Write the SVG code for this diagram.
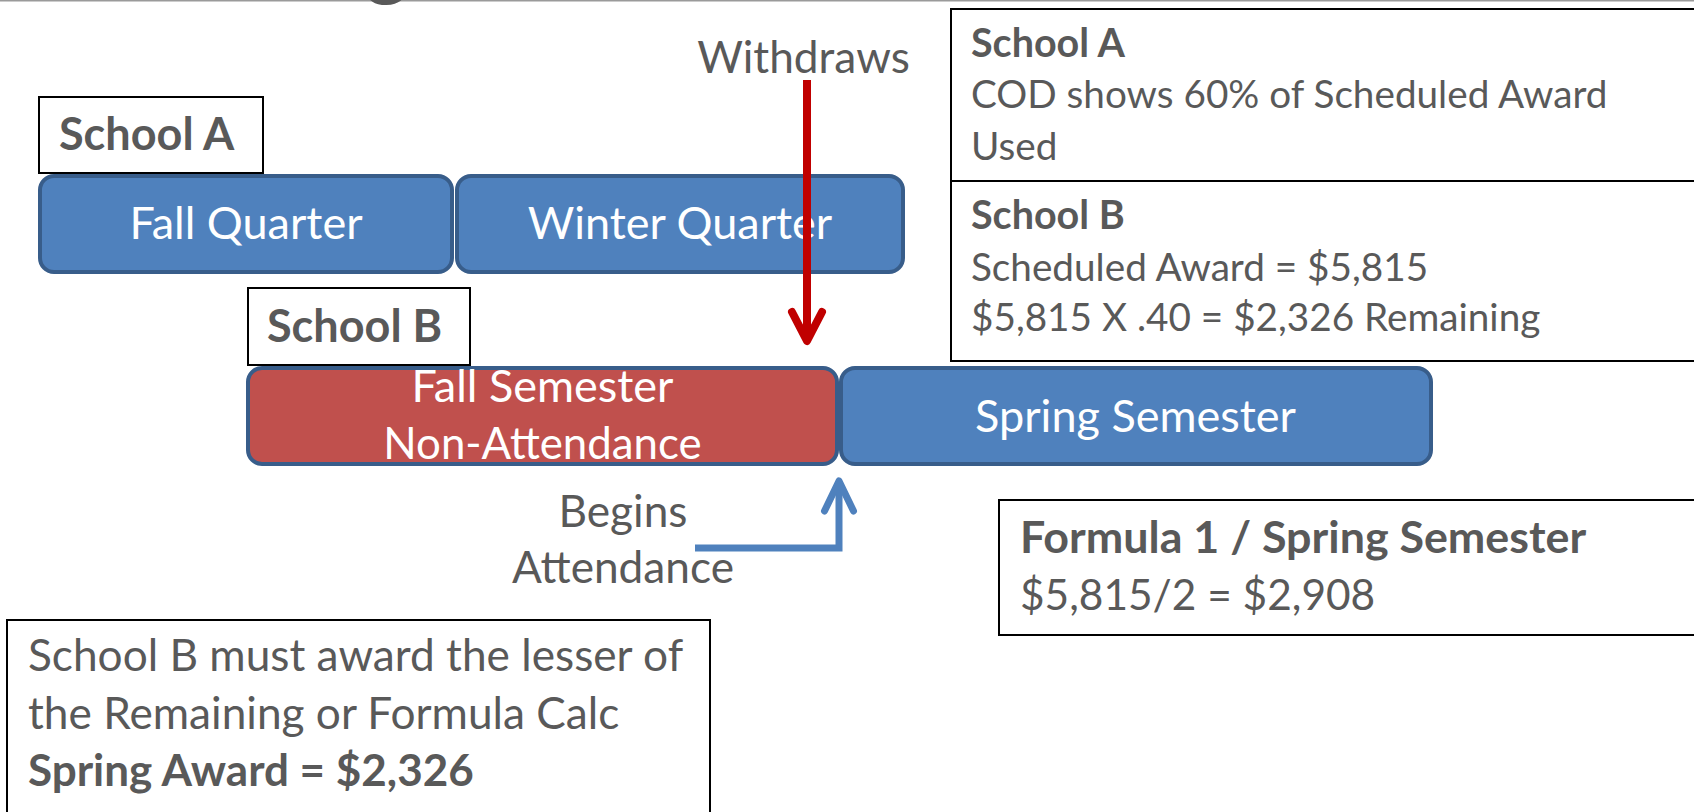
<svg xmlns="http://www.w3.org/2000/svg" width="1694" height="812" viewBox="0 0 1694 812">
<style>
.t{font-family:Lato,"Liberation Sans",sans-serif;fill:#595959}
.b{font-weight:bold}
.w{fill:#ffffff}
.lbl{fill:#ffffff;stroke:#000000;stroke-width:2}
.bar{fill:#4F81BD;stroke:#385D8A;stroke-width:4}
.red{fill:#C0504D;stroke:#385D8A;stroke-width:4}
.c48{font-size:45px}
.c44{font-size:44.2px}
.c42{font-size:39.5px}
.r42{font-size:38.7px}
</style>
<defs>
<marker id="mr" markerUnits="userSpaceOnUse" orient="auto" refX="0" refY="0" markerWidth="40" markerHeight="40" overflow="visible">
<path d="M-29,-15 L0,0 L-29,15" fill="none" stroke="#C00000" stroke-width="8" stroke-linecap="round" stroke-linejoin="round"/>
</marker>
<marker id="mb" markerUnits="userSpaceOnUse" orient="auto" refX="0" refY="0" markerWidth="40" markerHeight="40" overflow="visible">
<path d="M-30,-14.5 L0,0 L-30,14.5" fill="none" stroke="#4F81BD" stroke-width="7" stroke-linecap="round" stroke-linejoin="round"/>
</marker>
</defs>
<rect x="0" y="0" width="1694" height="812" fill="#ffffff"/>
<rect x="0" y="0" width="1694" height="1.5" fill="#9a9a9a"/>
<text class="t b" x="366" y="-10" font-size="80">g</text>

<g id="schoolA-label">
<rect class="lbl" x="39" y="97" width="224" height="76"/>
<text class="t b c48" x="59" y="150">School A</text>
</g>
<g id="fall-quarter">
<rect class="bar" x="40" y="176" width="412" height="96" rx="14"/>
<text class="t w c48" x="246" y="239" text-anchor="middle">Fall Quarter</text>
</g>
<g id="winter-quarter">
<rect class="bar" x="457" y="176" width="446" height="96" rx="14"/>
<text class="t w c48" x="680" y="239" text-anchor="middle">Winter Quarter</text>
</g>
<g id="withdraws">
<text class="t c44" x="803.5" y="73" text-anchor="middle">Withdraws</text>
</g>
<g id="schoolB-label">
<rect class="lbl" x="248" y="288" width="222" height="77"/>
<text class="t b c48" x="267" y="342">School B</text>
</g>
<g id="fall-semester">
<rect class="red" x="248" y="368" width="589" height="96" rx="14"/>
<text class="t w c48" x="542.5" y="402" text-anchor="middle">Fall Semester</text>
<text class="t w" x="542.5" y="459" text-anchor="middle" font-size="43.8">Non-Attendance</text>
</g>
<g id="spring-semester">
<rect class="bar" x="841" y="368" width="590" height="96" rx="14"/>
<text class="t w c48" x="1135.5" y="432" text-anchor="middle">Spring Semester</text>
</g>
<g id="begins-attendance">
<text class="t c44" x="623" y="527" text-anchor="middle">Begins</text>
<text class="t c44" x="623" y="583" text-anchor="middle">Attendance</text>
</g>
<g id="info-schoolA">
<rect class="lbl" x="951" y="9" width="800" height="172"/>
<text class="t b c42" x="971" y="57">School A</text>
<text class="t r42" x="971" y="108">COD shows 60% of Scheduled Award</text>
<text class="t r42" x="971" y="160">Used</text>
</g>
<g id="info-schoolB">
<rect class="lbl" x="951" y="181" width="800" height="180"/>
<text class="t b c42" x="971" y="229">School B</text>
<text class="t r42" x="971" y="281">Scheduled Award = $5,815</text>
<text class="t r42" x="971" y="331">$5,815 X .40 = $2,326 Remaining</text>
</g>
<g id="formula">
<rect class="lbl" x="999" y="500" width="800" height="135"/>
<text class="t b" x="1020" y="553" font-size="44.8">Formula 1 / Spring Semester</text>
<text class="t" x="1020" y="610" font-size="42.4">$5,815/2 = $2,908</text>
</g>
<g id="conclusion">
<rect class="lbl" x="7" y="620" width="703" height="250"/>
<text class="t c44" x="28" y="671">School B must award the lesser of</text>
<text class="t c44" x="28" y="729">the Remaining or Formula Calc</text>
<text class="t b" x="28" y="786" font-size="44">Spring Award = $2,326</text>
</g>
<g id="connectors">
<path d="M807,80 V341" fill="none" stroke="#C00000" stroke-width="8" marker-end="url(#mr)"/>
<path d="M695,548 H839 V481" fill="none" stroke="#4F81BD" stroke-width="7" marker-end="url(#mb)"/>
</g>
</svg>
